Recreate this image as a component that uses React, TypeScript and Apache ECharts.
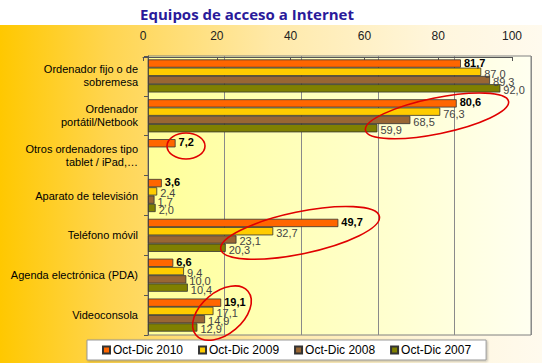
import React, { useEffect, useRef } from "react";
import * as echarts from "echarts";

const categories = [
  "Ordenador fijo o de\nsobremesa",
  "Ordenador\nportátil/Netbook",
  "Otros ordenadores tipo\ntablet / iPad,…",
  "Aparato de televisión",
  "Teléfono móvil",
  "Agenda electrónica (PDA)",
  "Videoconsola",
];
const seriesNames = ["Oct-Dic 2010", "Oct-Dic 2009", "Oct-Dic 2008", "Oct-Dic 2007"];
const v2010 = [81.7, 80.6, 7.2, 3.6, 49.7, 6.6, 19.1];
const v2009 = [87.0, 76.3, null, 2.4, 32.7, 9.4, 17.1];
const v2008 = [89.3, 68.5, null, 1.7, 23.1, 10.0, 14.9];
const v2007 = [92.0, 59.9, null, 2.0, 20.3, 10.4, 12.9];
const colors = ["#ff6600", "#ffcc00", "#996633", "#808000"];

const fmt = (p: any) => (p.value == null ? "" : Number(p.value).toFixed(1).replace(".", ","));

export default function App() {
  const ref = useRef<HTMLDivElement>(null);
  useEffect(() => {
    if (!ref.current) return;
    const chart = echarts.init(ref.current, undefined, { renderer: "svg" });
    const data = [v2010, v2009, v2008, v2007];
    const series = data.map((d, i) => ({
      name: seriesNames[i],
      type: "bar",
      xAxisIndex: 0,
      yAxisIndex: 0,
      data: d,
      barGap: "0%",
      barCategoryGap: "17%",
      itemStyle: { color: colors[i], borderColor: "#333", borderWidth: 0.8 },
      label: {
        show: true,
        position: "right",
        distance: 3,
        formatter: fmt,
        fontFamily: "Liberation Sans, Arial, sans-serif",
        fontSize: 11,
        fontWeight: i === 0 ? "bold" : "normal",
        color: i === 0 ? "#000" : "#444",
        offset: i === 0 ? [0, -1] : [0, 2],
      },
    }));
    const ell = (cx: number, cy: number, rx: number, ry: number, rot: number) => ({
      type: "ellipse",
      shape: { cx, cy, rx, ry },
      rotation: rot,
      originX: cx,
      originY: cy,
      style: { fill: "none", stroke: "#e00000", lineWidth: 1.6 },
      z: 100,
    });
    chart.setOption({
      animation: false,
      backgroundColor: "transparent",
      title: {
        text: "Equipos de acceso a Internet",
        left: 242,
        textAlign: "center",
        top: 1,
        textStyle: { color: "#2a1a9a", fontSize: 15, fontWeight: "bold", fontFamily: "Open Sans, sans-serif" },
      },
      grid: [
        {
          left: 148,
          right: 11,
          top: 56,
          bottom: 28,
          show: true,
          borderColor: "#808080",
          borderWidth: 1,
          backgroundColor: new echarts.graphic.LinearGradient(0, 0, 1, 0, [
            { offset: 0, color: "#ffff99" },
            { offset: 0.5, color: "#ffffc4" },
            { offset: 1, color: "#fffff0" },
          ]),
        },
        { left: 143, right: 30, top: 57, height: 1 },
      ],
      xAxis: [
        {
          type: "value",
          gridIndex: 0,
          min: 0,
          max: 100,
          interval: 20,
          axisLabel: { show: false },
          axisLine: { show: false },
          axisTick: { show: false },
          splitLine: { show: true, lineStyle: { color: "#8a8a8a", width: 1 } },
        },
        {
          type: "value",
          gridIndex: 1,
          position: "top",
          min: 0,
          max: 100,
          interval: 20,
          axisLine: { show: true, lineStyle: { color: "#555" } },
          axisTick: { show: true, inside: true, length: 4, lineStyle: { color: "#555" } },
          splitLine: { show: false },
          axisLabel: { color: "#222", fontSize: 12, margin: 15, fontFamily: "Liberation Sans, Arial, sans-serif" },
        },
      ],
      yAxis: [
        {
          type: "category",
          gridIndex: 0,
          data: categories,
          inverse: true,
          axisLine: { show: true, lineStyle: { color: "#555" } },
          axisTick: { show: true, length: 4, lineStyle: { color: "#555" } },
          axisLabel: {
            color: "#000",
            fontSize: 11,
            lineHeight: 13,
            margin: 10,
            align: "right",
            fontFamily: "Liberation Sans, Arial, sans-serif",
          },
        },
        { type: "category", gridIndex: 1, show: false, data: [""] },
      ],
      legend: {
        data: seriesNames,
        left: 87,
        top: 340,
        icon: "rect",
        itemWidth: 7,
        itemHeight: 7,
        itemGap: 15,
        padding: [4, 15],
        backgroundColor: "#ffffff",
        borderColor: "#999",
        borderWidth: 1,
        shadowColor: "rgba(0,0,0,0.25)",
        shadowBlur: 2,
        shadowOffsetX: 1,
        shadowOffsetY: 1,
        textStyle: { fontSize: 12, color: "#000", fontFamily: "Liberation Sans, Arial, sans-serif", padding: [0, 0, 0, -2] },
      },
      series,
      graphic: [
        ell(437, 116, 73, 18, 0.2),
        ell(186, 146, 19, 13, 0),
        ell(300, 233, 81, 21, 0.205),
        ell(222, 313, 34, 21, 0.7),
      ],
    });
    return () => chart.dispose();
  }, []);
  return (
    <div style={{ position: "fixed", left: 0, top: 0, width: 542, height: 363, background: "#fff", overflow: "hidden" }}>
      <div
        style={{
          position: "absolute",
          left: 0,
          top: 25,
          width: 542,
          height: 338,
          background: "linear-gradient(to right, #ffc800 0%, #ffd550 20%, #ffe9a8 50%, #fff6dc 80%, #fffaee 100%)",
        }}
      />
      <div ref={ref} style={{ position: "absolute", left: 0, top: 0, width: 542, height: 363 }} />
    </div>
  );
}
